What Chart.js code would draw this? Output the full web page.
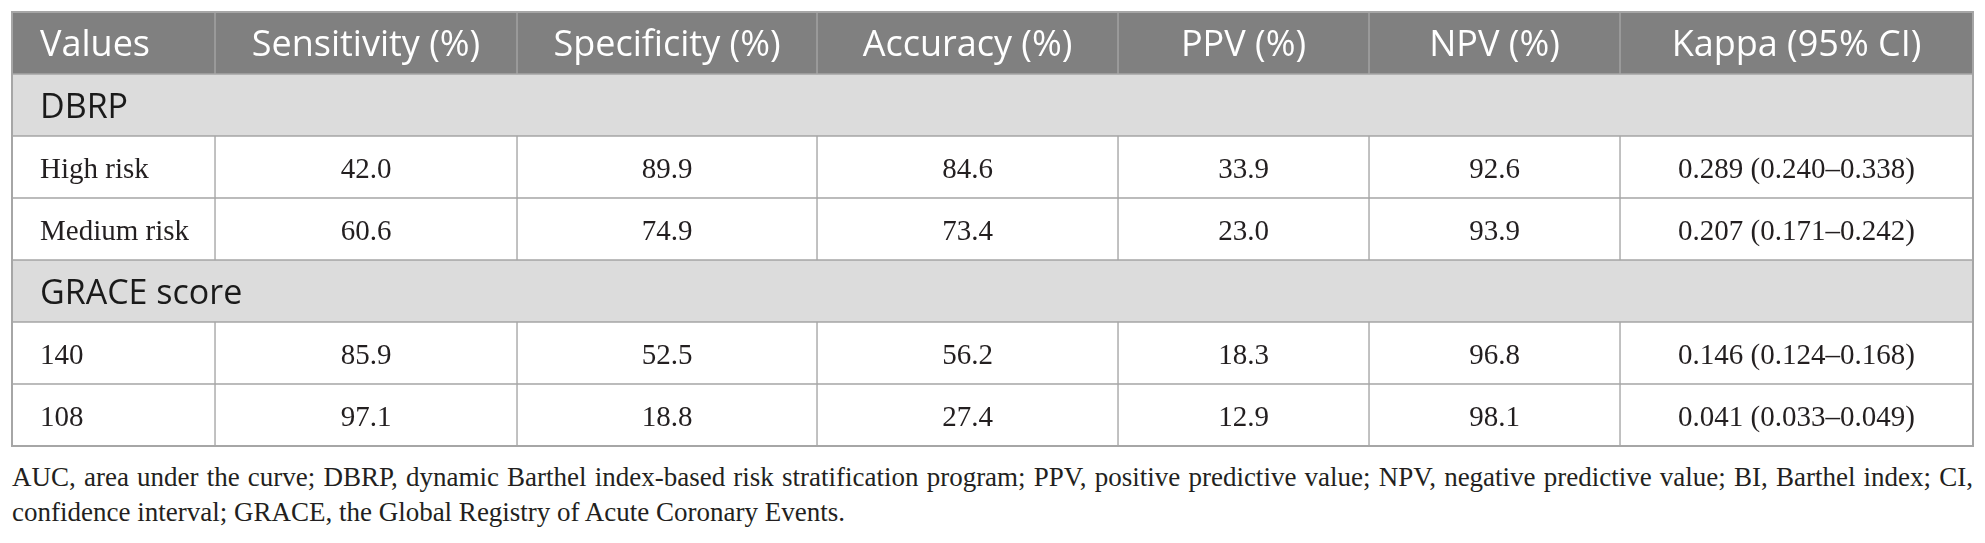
<!DOCTYPE html>
<html>
<head>
<meta charset="utf-8">
<script src="https://cdn.jsdelivr.net/npm/chart.js@4.4.1/dist/chart.umd.min.js"></script>
<style>
  html, body { margin: 0; padding: 0; background: #fff; }
  #wrap { position: relative; width: 1985px; height: 450px; }
  .note { position: absolute; left: 12px; font-family: 'Liberation Serif', serif; font-size: 27px;
          line-height: 35px; color: #231f20; white-space: nowrap; }
  #note1 { top: 460px; }
  #note2 { top: 495px; }
</style>
</head>
<body>
<div id="wrap"><canvas id="tbl"></canvas></div>
<div class="note" id="note1"></div>
<div class="note" id="note2"></div>
<script>
const COLUMNS = ['Values', 'Sensitivity (%)', 'Specificity (%)', 'Accuracy (%)', 'PPV (%)', 'NPV (%)', 'Kappa (95% CI)'];
const GROUPS = ['DBRP', 'GRACE score'];
const ROW_LABELS = ['High risk', 'Medium risk', '140', '108'];
const ROW_GROUP = [0, 0, 1, 1];
const SENSITIVITY = [42.0, 60.6, 85.9, 97.1];
const SPECIFICITY = [89.9, 74.9, 52.5, 18.8];
const ACCURACY = [84.6, 73.4, 56.2, 27.4];
const PPV = [33.9, 23.0, 18.3, 12.9];
const NPV = [92.6, 93.9, 96.8, 98.1];
const KAPPA = [0.289, 0.207, 0.146, 0.041];
const KAPPA_LO = [0.240, 0.171, 0.124, 0.033];
const KAPPA_HI = [0.338, 0.242, 0.168, 0.049];
const NOTE_1 = 'AUC, area under the curve; DBRP, dynamic Barthel index-based risk stratification program; PPV, positive predictive value; NPV, negative predictive value; BI, Barthel index; CI,';
const NOTE_2 = 'confidence interval; GRACE, the Global Registry of Acute Coronary Events.';

// column boundaries along the x scale (table px)
const EDGES = [0, 203, 505, 805, 1106, 1357, 1608, 1961];
const HEAD_BG = '#808080', GROUP_BG = '#dcdcdc', LINE = '#a6a6a6', INK = '#231f20';
const SANS = "'Open Sans', sans-serif", SERIF = "'Liberation Serif', serif";

// footnote: first line justified to the table width
const n1 = document.getElementById('note1');
n1.textContent = NOTE_1;
document.getElementById('note2').textContent = NOTE_2;
const gaps = NOTE_1.split(' ').length - 1;
n1.style.wordSpacing = ((EDGES[EDGES.length - 1] - n1.getBoundingClientRect().width) / gaps) + 'px';

const SERIES = [SENSITIVITY, SPECIFICITY, ACCURACY, PPV, NPV];

const rows = [{ kind: 'head', label: COLUMNS[0] }];
GROUPS.forEach((g, gi) => {
  rows.push({ kind: 'group', label: g });
  ROW_LABELS.forEach((r, ri) => { if (ROW_GROUP[ri] === gi) rows.push({ kind: 'data', label: r, idx: ri }); });
});

function cellText(row, col) {
  if (row.kind === 'head') return COLUMNS[col];
  if (col === 0) return row.label;
  const i = row.idx;
  if (col <= SERIES.length) return SERIES[col - 1][i].toFixed(1);
  return `${KAPPA[i].toFixed(3)} (${KAPPA_LO[i].toFixed(3)}\u2013${KAPPA_HI[i].toFixed(3)})`;
}

const datasets = COLUMNS.map((c, ci) => ({
  label: c,
  data: rows.map(r => r.kind === 'group' ? null : [EDGES[ci], EDGES[ci + 1]]),
  backgroundColor: ctx => rows[ctx.dataIndex].kind === 'head' ? HEAD_BG : '#ffffff',
  col: ci,
}));
datasets.push({
  label: 'groups',
  data: rows.map(r => r.kind === 'group' ? [EDGES[0], EDGES[EDGES.length - 1]] : null),
  backgroundColor: GROUP_BG,
  col: -1,
});

const cellLabels = {
  id: 'cellLabels',
  afterDatasetsDraw(chart) {
    const ctx = chart.ctx;
    ctx.save();
    chart.data.datasets.forEach((ds, di) => {
      chart.getDatasetMeta(di).data.forEach((el, j) => {
        if (ds.data[j] == null) return;
        const row = rows[j];
        const { x, base, y } = el.getProps(['x', 'base', 'y'], true);
        const left = Math.min(x, base), right = Math.max(x, base);
        ctx.textBaseline = 'alphabetic';
        if (row.kind === 'group') {
          ctx.font = `34px ${SANS}`; ctx.fillStyle = '#1a1a1a'; ctx.textAlign = 'left';
          ctx.fillText(row.label, left + 28, y + 13);
          return;
        }
        const txt = cellText(row, ds.col);
        if (row.kind === 'head') {
          ctx.font = `36px ${SANS}`; ctx.fillStyle = '#ffffff';
        } else {
          ctx.font = `29px ${SERIF}`; ctx.fillStyle = INK;
        }
        const dy = row.kind === 'head' ? 12.5 : 11;
        if (ds.col === 0) { ctx.textAlign = 'left'; ctx.fillText(txt, left + 28, y + dy); }
        else { ctx.textAlign = 'center'; ctx.fillText(txt, (left + right) / 2, y + dy); }
      });
    });
    const a = chart.chartArea;
    ctx.strokeStyle = LINE; ctx.lineWidth = 2;
    ctx.strokeRect(a.left, a.top, a.right - a.left, a.bottom - a.top);
    ctx.restore();
  },
};

new Chart(document.getElementById('tbl'), {
  type: 'bar',
  data: { labels: rows.map(r => r.label), datasets },
  options: {
    indexAxis: 'y',
    responsive: true, maintainAspectRatio: false, animation: false,
    layout: { padding: { left: 12, right: 12, top: 12, bottom: 4 } },
    datasets: { bar: { grouped: false, barPercentage: 1, categoryPercentage: 1,
      borderWidth: 1, borderColor: LINE, borderSkipped: false } },
    plugins: { legend: { display: false }, tooltip: { enabled: false } },
    scales: {
      x: { type: 'linear', min: 0, max: EDGES[EDGES.length - 1], display: false },
      y: { type: 'category', display: false },
    },
  },
  plugins: [cellLabels],
});
</script>
</body>
</html>
